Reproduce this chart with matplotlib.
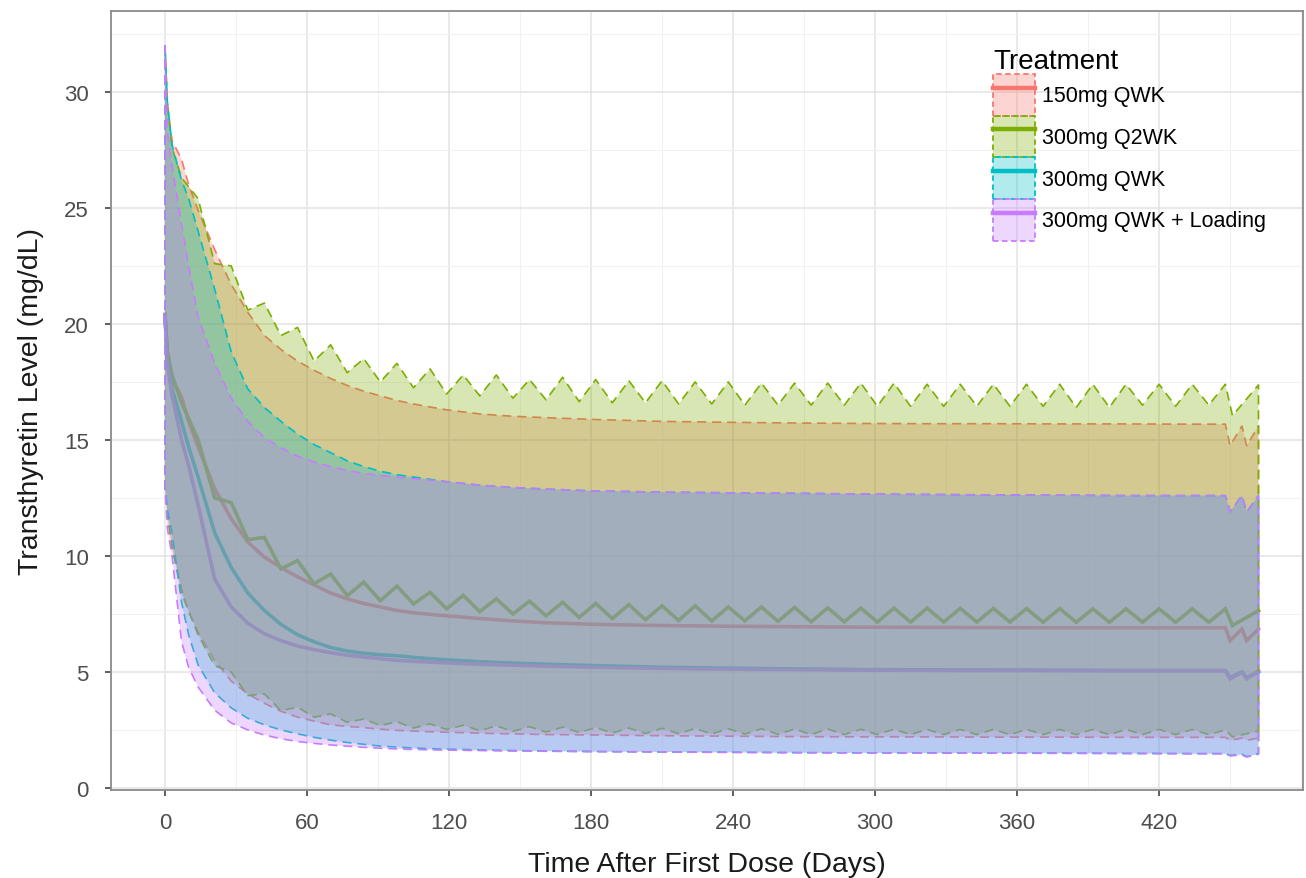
import matplotlib.pyplot as plt
from matplotlib.patches import Patch
from matplotlib.lines import Line2D
from matplotlib.colors import to_rgba
from matplotlib.ticker import FixedLocator, MultipleLocator

plt.rcParams['font.family'] = ['Liberation Sans', 'DejaVu Sans']

# Treatments and ggplot default colours
treatments = ['150mg QWK', '300mg Q2WK', '300mg QWK', '300mg QWK + Loading']
colors = ['#F8766D', '#7CAE00', '#00BFC4', '#C77CFF']

# Sampling days
days_qwk = [0, 1, 3, 7, 10, 14, 21, 28, 35, 42, 49, 56, 63, 70, 77, 84, 91, 98, 105, 112, 119,
            133, 147, 161, 182, 210, 238, 266, 294, 322, 350, 378, 406, 434, 448, 450, 455, 457, 462]
days_q2wk = [0, 1, 3, 7, 14, 21, 28, 35, 42, 49, 56, 63, 70, 77, 84, 91, 98, 105, 112, 119, 126,
             133, 140, 147, 154, 161, 168, 175, 182, 189, 196, 203, 210, 217, 224, 231, 238, 245,
             252, 259, 266, 273, 280, 287, 294, 301, 308, 315, 322, 329, 336, 343, 350, 357, 364,
             371, 378, 385, 392, 399, 406, 413, 420, 427, 434, 441, 448, 451, 462]

# 150mg QWK
up_150 = [32, 29.5, 27.9, 27.1, 26.0, 24.9, 23.2, 21.7, 20.5, 19.5, 18.9, 18.4, 18.0, 17.65, 17.35,
          17.1, 16.9, 16.7, 16.55, 16.42, 16.3, 16.12, 16.02, 15.96, 15.88, 15.8, 15.76, 15.73,
          15.71, 15.7, 15.7, 15.69, 15.69, 15.68, 15.68, 14.75, 15.6, 14.75, 15.6]
med_150 = [20.4, 18.8, 17.6, 16.85, 15.8, 14.7, 12.9, 11.6, 10.6, 9.95, 9.5, 9.1, 8.75, 8.4, 8.15,
           7.95, 7.8, 7.65, 7.55, 7.48, 7.42, 7.3, 7.2, 7.12, 7.05, 7.0, 6.97, 6.95, 6.93, 6.92,
           6.91, 6.9, 6.9, 6.9, 6.9, 6.35, 6.85, 6.35, 6.85]
lo_150 = [13.0, 11.8, 10.4, 8.6, 7.6, 6.7, 5.5, 4.6, 4.05, 3.65, 3.3, 3.05, 2.88, 2.72, 2.65, 2.6,
          2.53, 2.48, 2.45, 2.42, 2.4, 2.36, 2.33, 2.3, 2.28, 2.25, 2.23, 2.21, 2.2, 2.2, 2.19,
          2.19, 2.18, 2.18, 2.18, 2.05, 2.15, 2.05, 2.15]

# 300mg Q2WK
up_q2 = [32, 29.5, 27.6, 26.3, 25.4, 22.6, 22.5, 20.6, 20.9, 19.5, 19.85, 18.4, 19.1, 17.9, 18.5,
         17.5, 18.3, 17.25, 18.06, 16.98, 17.8, 16.9, 17.8, 16.8, 17.6, 16.73, 17.7, 16.65, 17.6,
         16.6, 17.55, 16.6, 17.55, 16.55, 17.5, 16.55, 17.5, 16.5, 17.45, 16.5, 17.45, 16.5, 17.45,
         16.5, 17.45, 16.45, 17.45, 16.45, 17.4, 16.45, 17.4, 16.45, 17.4, 16.45, 17.4, 16.45,
         17.4, 16.4, 17.4, 16.4, 17.4, 16.5, 17.4, 16.45, 17.4, 16.5, 17.4, 16.05, 17.37]
med_q2 = [20.4, 18.8, 17.8, 16.6, 15.0, 12.5, 12.3, 10.7, 10.8, 9.44, 9.8, 8.8, 9.22, 8.29, 8.87,
          8.07, 8.7, 7.93, 8.43, 7.72, 8.3, 7.6, 8.15, 7.5, 8.05, 7.42, 8.0, 7.35, 7.95, 7.3, 7.9,
          7.25, 7.85, 7.22, 7.85, 7.2, 7.8, 7.2, 7.8, 7.18, 7.78, 7.16, 7.76, 7.16, 7.75, 7.15,
          7.75, 7.15, 7.75, 7.15, 7.74, 7.15, 7.74, 7.15, 7.73, 7.14, 7.73, 7.14, 7.72, 7.14, 7.72,
          7.14, 7.72, 7.14, 7.72, 7.14, 7.72, 7.0, 7.64]
lo_q2 = [13.0, 11.8, 10.4, 8.4, 6.6, 5.27, 4.99, 3.98, 4.05, 3.33, 3.48, 3.05, 3.19, 2.83, 2.97,
         2.69, 2.85, 2.58, 2.76, 2.52, 2.7, 2.47, 2.67, 2.44, 2.64, 2.41, 2.62, 2.39, 2.6, 2.37,
         2.58, 2.35, 2.57, 2.34, 2.56, 2.33, 2.55, 2.32, 2.55, 2.31, 2.54, 2.3, 2.54, 2.3, 2.53,
         2.3, 2.53, 2.3, 2.52, 2.3, 2.52, 2.3, 2.52, 2.3, 2.52, 2.3, 2.52, 2.3, 2.52, 2.3, 2.52,
         2.3, 2.52, 2.3, 2.52, 2.3, 2.5, 2.2, 2.45]

# 300mg QWK
up_300 = [32, 29.6, 27.7, 26.2, 25.4, 24.0, 21.5, 18.8, 17.2, 16.4, 15.8, 15.25, 14.8, 14.45, 14.1,
          13.85, 13.65, 13.5, 13.4, 13.3, 13.2, 13.05, 12.95, 12.88, 12.8, 12.75, 12.72, 12.7,
          12.67, 12.65, 12.63, 12.62, 12.6, 12.6, 12.6, 11.9, 12.6, 11.9, 12.6]
med_300 = [20.4, 18.5, 17.2, 15.8, 14.7, 13.4, 11.0, 9.5, 8.4, 7.65, 7.05, 6.6, 6.3, 6.05, 5.9,
           5.8, 5.74, 5.7, 5.63, 5.57, 5.52, 5.44, 5.38, 5.33, 5.27, 5.2, 5.16, 5.13, 5.1, 5.09,
           5.08, 5.07, 5.06, 5.06, 5.06, 4.75, 5.0, 4.75, 5.0]
lo_300 = [13.0, 12.0, 11.0, 8.0, 6.6, 5.3, 4.1, 3.45, 3.0, 2.72, 2.5, 2.33, 2.18, 2.06, 1.96, 1.88,
          1.8, 1.76, 1.72, 1.69, 1.67, 1.64, 1.61, 1.59, 1.57, 1.55, 1.54, 1.52, 1.51, 1.51, 1.5,
          1.5, 1.49, 1.48, 1.48, 1.4, 1.45, 1.35, 1.48]

# 300mg QWK + Loading
up_load = [32, 28.3, 26.8, 24.3, 22.5, 20.3, 18.3, 16.8, 15.8, 15.1, 14.65, 14.3, 14.05, 13.85,
           13.68, 13.55, 13.47, 13.4, 13.33, 13.27, 13.2, 13.05, 12.95, 12.88, 12.8, 12.75, 12.72,
           12.7, 12.67, 12.65, 12.63, 12.62, 12.6, 12.6, 12.6, 11.9, 12.6, 11.9, 12.6]
med_load = [20.4, 18.3, 16.9, 15.0, 13.9, 12.2, 9.0, 7.8, 7.1, 6.65, 6.35, 6.12, 5.96, 5.83, 5.72,
            5.64, 5.57, 5.5, 5.46, 5.42, 5.39, 5.33, 5.29, 5.25, 5.2, 5.15, 5.12, 5.1, 5.08, 5.07,
            5.06, 5.06, 5.05, 5.05, 5.05, 4.7, 4.99, 4.7, 5.05]
lo_load = [13.0, 11.2, 10.0, 6.3, 5.2, 4.35, 3.35, 2.8, 2.5, 2.28, 2.12, 2.0, 1.92, 1.85, 1.8, 1.75,
           1.71, 1.68, 1.66, 1.64, 1.63, 1.61, 1.59, 1.58, 1.56, 1.55, 1.53, 1.52, 1.51, 1.5, 1.5,
           1.49, 1.48, 1.47, 1.47, 1.38, 1.42, 1.33, 1.45]

series = [(days_qwk, lo_150, med_150, up_150),
          (days_q2wk, lo_q2, med_q2, up_q2),
          (days_qwk, lo_300, med_300, up_300),
          (days_qwk, lo_load, med_load, up_load)]

x_ticks = [0, 60, 120, 180, 240, 300, 360, 420]
x_minor = [30, 90, 150, 210, 270, 330, 390, 450, 480]

W, H = 1306, 879
fig = plt.figure(figsize=(W / 100, H / 100), dpi=100)
ax = fig.add_axes([111 / W, 1 - 791 / H, (1303 - 111) / W, (791 - 12) / H])

# medians first, ribbons drawn over them
for (d, lo, med, up), c in zip(series, colors):
    ax.plot(d, med, color=c, lw=2.6, zorder=2, solid_joinstyle='miter')
for (d, lo, med, up), c in zip(series, colors):
    ax.fill_between(d, lo, up, facecolor=to_rgba(c, 0.3), edgecolor=c,
                    linestyle=(0, (5.5, 3.5)), linewidth=1.2, zorder=3)

ax.set_xlim(-22.8, 480.8)
ax.set_ylim(-0.09, 33.49)
ax.xaxis.set_major_locator(FixedLocator(x_ticks))
ax.xaxis.set_minor_locator(FixedLocator(x_minor))
ax.yaxis.set_major_locator(MultipleLocator(5))
ax.yaxis.set_minor_locator(MultipleLocator(2.5))
ax.grid(which='major', color='#E3E3E3', lw=1.1)
ax.grid(which='minor', color='#F1F1F1', lw=0.7)
ax.set_axisbelow(True)
ax.tick_params(which='major', length=4, width=1.1, color='#333333', labelsize=16,
               labelcolor='#4D4D4D')
ax.tick_params(axis='x', pad=12)
ax.tick_params(axis='y', pad=12)
ax.tick_params(which='minor', length=0)
for s in ax.spines.values():
    s.set_color('#8A8A8A')
    s.set_linewidth(1.3)

ax.set_xlabel('Time After First Dose (Days)', fontsize=20.5, color='#1A1A1A', labelpad=13)
ax.set_ylabel('Transthyretin Level (mg/dL)', fontsize=20.5, color='#1A1A1A', labelpad=14)

# legend: dashed filled box with the median line across it
handles = [(Patch(facecolor=to_rgba(c, 0.3), edgecolor=c, linestyle=(0, (3, 2)), linewidth=1.3),
            Line2D([], [], color=c, lw=3.2)) for c in colors]
ax.legend(handles, treatments, title='Treatment', loc='upper left',
          bbox_to_anchor=(980 / W, 1 - 36 / H), bbox_transform=fig.transFigure,
          fontsize=15.5, title_fontsize=20, handlelength=1.94, handleheight=2.6,
          labelspacing=0.0, handletextpad=0.35, borderpad=0.1, frameon=False,
          alignment='left')

fig.savefig('out.png', dpi=100)
